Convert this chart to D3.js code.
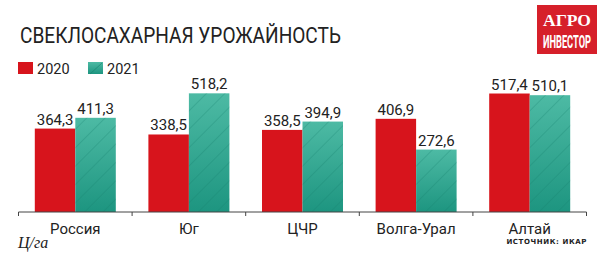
<!DOCTYPE html>
<html>
<head>
<meta charset="utf-8">
<script src="https://cdn.jsdelivr.net/npm/d3@7"></script>
<style>
  body { margin: 0; background: #fff; }
  text { font-family: "Roboto", sans-serif; }
</style>
</head>
<body>
<div id="chart"></div>
<script>
var WIDTH = 600, HEIGHT = 261;

// data
var regions = ['Россия', 'Юг', 'ЦЧР', 'Волга-Урал', 'Алтай'];
var years = ['2020', '2021'];
var values2020 = [364.3, 338.5, 358.5, 406.9, 517.4];
var values2021 = [411.3, 518.2, 394.9, 272.6, 510.1];

var red = '#d7141c';
var tealTop = '#4dbaa4', tealBottom = '#1d9580';

var svg = d3.select('#chart').append('svg')
  .attr('width', WIDTH)
  .attr('height', HEIGHT);

var defs = svg.append('defs');

var grad = defs.append('linearGradient')
  .attr('id', 'tealGrad')
  .attr('x1', 0).attr('y1', 0).attr('x2', 0).attr('y2', 1);
grad.append('stop').attr('offset', '0%').attr('stop-color', tealTop);
grad.append('stop').attr('offset', '100%').attr('stop-color', tealBottom);

var hatch = defs.append('pattern')
  .attr('id', 'hatch')
  .attr('patternUnits', 'userSpaceOnUse')
  .attr('width', 13).attr('height', 13)
  .attr('patternTransform', 'rotate(45)');
hatch.append('line')
  .attr('x1', 0).attr('y1', 0).attr('x2', 0).attr('y2', 13)
  .attr('stroke', '#16806c').attr('stroke-width', 1).attr('stroke-opacity', 0.55);

// scales
var x0 = d3.scaleBand().domain(regions).range([18.5, 586.5]).padding(0);
var y = d3.scaleLinear().domain([0, 600]).range([212, 74.6]);
var barW = 40.5;

var rows = regions.map(function(r, i) {
  return { region: r, v: [values2020[i], values2021[i]] };
});

var groups = svg.selectAll('g.grp')
  .data(rows)
  .enter()
  .append('g')
  .attr('class', 'grp')
  .attr('transform', function(d) {
    return 'translate(' + (x0(d.region) + x0.bandwidth() / 2) + ',0)';
  });

// 2020 bars
groups.append('rect')
  .attr('x', -barW)
  .attr('y', function(d) { return y(d.v[0]); })
  .attr('width', barW)
  .attr('height', function(d) { return y(0) - y(d.v[0]); })
  .attr('fill', red);

// 2021 bars: gradient + hatch on top
groups.append('rect')
  .attr('x', 0)
  .attr('y', function(d) { return y(d.v[1]); })
  .attr('width', barW)
  .attr('height', function(d) { return y(0) - y(d.v[1]); })
  .attr('fill', 'url(#tealGrad)');
groups.append('rect')
  .attr('x', 0)
  .attr('y', function(d) { return y(d.v[1]); })
  .attr('width', barW)
  .attr('height', function(d) { return y(0) - y(d.v[1]); })
  .attr('fill', 'url(#hatch)');

var fmt = function(v) { return d3.format('.1f')(v).replace('.', ','); };

groups.append('text')
  .attr('x', -barW / 2)
  .attr('y', function(d) { return y(d.v[0]) - 4; })
  .attr('text-anchor', 'middle')
  .attr('font-size', 15)
  .attr('fill', '#222')
  .text(function(d) { return fmt(d.v[0]); });

groups.append('text')
  .attr('x', barW / 2)
  .attr('y', function(d) { return y(d.v[1]) - 4; })
  .attr('text-anchor', 'middle')
  .attr('font-size', 15)
  .attr('fill', '#222')
  .text(function(d) { return fmt(d.v[1]); });

// axis
var axisG = svg.append('g').attr('transform', 'translate(0,' + y(0) + ')');
axisG.append('line')
  .attr('x1', x0.range()[0]).attr('x2', x0.range()[1])
  .attr('stroke', '#444').attr('stroke-width', 1);
var tickXs = regions.map(function(r) { return x0(r); }).concat([x0.range()[1]]);
axisG.selectAll('line.tick')
  .data(tickXs)
  .enter()
  .append('line')
  .attr('class', 'tick')
  .attr('x1', function(d) { return d; }).attr('x2', function(d) { return d; })
  .attr('y1', 0).attr('y2', 4)
  .attr('stroke', '#444');
axisG.selectAll('text.cat')
  .data(regions)
  .enter()
  .append('text')
  .attr('class', 'cat')
  .attr('x', function(d) { return x0(d) + x0.bandwidth() / 2; })
  .attr('y', 22)
  .attr('text-anchor', 'middle')
  .attr('font-size', 15)
  .attr('fill', '#222')
  .text(function(d) { return d; });

// title
svg.append('text')
  .attr('x', 20).attr('y', 43)
  .attr('font-size', 22)
  .attr('textLength', 321).attr('lengthAdjust', 'spacingAndGlyphs')
  .attr('fill', '#222')
  .text('СВЕКЛОСАХАРНАЯ УРОЖАЙНОСТЬ');

// legend
var legendColors = [red, 'url(#tealGrad)'];
var legend = svg.selectAll('g.leg')
  .data(years)
  .enter()
  .append('g')
  .attr('class', 'leg')
  .attr('transform', function(d, i) { return 'translate(' + (18 + i * 70) + ',62)'; });
legend.append('rect')
  .attr('width', 15).attr('height', 12)
  .attr('fill', function(d, i) { return legendColors[i]; });
legend.filter(function(d, i) { return i == 1; })
  .append('line')
  .attr('x1', 2).attr('y1', 12).attr('x2', 14).attr('y2', 1)
  .attr('stroke', '#16806c').attr('stroke-opacity', 0.6);
legend.append('text')
  .attr('x', 19).attr('y', 12)
  .attr('font-size', 14.5)
  .attr('fill', '#222')
  .text(function(d) { return d; });

// unit & source
svg.append('text')
  .attr('x', 18).attr('y', 248)
  .attr('font-size', 16)
  .attr('font-style', 'italic')
  .attr('fill', '#222')
  .style('font-family', '"Liberation Serif", serif')
  .text('Ц/га');

svg.append('text')
  .attr('x', 587).attr('y', 244)
  .attr('text-anchor', 'end')
  .attr('font-size', 7)
  .attr('font-weight', 'bold')
  .attr('letter-spacing', 0.6)
  .attr('fill', '#222')
  .style('font-family', '"DejaVu Sans", sans-serif')
  .text('ИСТОЧНИК: ИКАР');

// logo
var logo = svg.append('g').attr('transform', 'translate(537,5)');
logo.append('rect').attr('width', 60).attr('height', 49).attr('fill', '#d6202a');
logo.append('text')
  .attr('x', 30).attr('y', 21)
  .attr('text-anchor', 'middle')
  .attr('font-size', 17)
  .attr('font-weight', 'bold')
  .attr('fill', '#fff')
  .attr('textLength', 48).attr('lengthAdjust', 'spacingAndGlyphs')
  .style('font-family', '"Liberation Serif", serif')
  .text('АГРО');
logo.append('text')
  .attr('x', 30).attr('y', 43)
  .attr('text-anchor', 'middle')
  .attr('font-size', 19)
  .attr('font-weight', 'bold')
  .attr('fill', '#fff')
  .attr('textLength', 48).attr('lengthAdjust', 'spacingAndGlyphs')
  .text('ИНВЕСТОР');
</script>
</body>
</html>
